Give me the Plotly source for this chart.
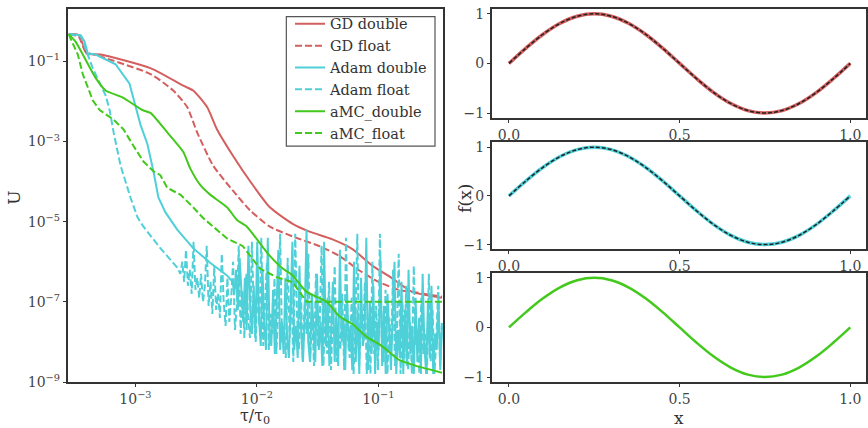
import numpy as np
import plotly.graph_objects as go

gd_double_logtau = [-3.549, -3.467, -3.426, -3.402, -3.287, -2.877, -2.607, -2.525, -2.410, -2.328,
                    -2.197, -2.057, -1.893, -1.705, -1.566, -1.377, -1.213, -1.049, -0.885, -0.721, -0.475]
gd_double_logU = [-0.320, -0.345, -0.636, -0.806, -0.830, -1.170, -1.607, -1.728, -2.141, -2.699,
                  -3.354, -3.985, -4.641, -5.053, -5.248, -5.442, -5.684, -6.097, -6.413, -6.752, -6.898]

gd_float_logtau = [-3.549, -3.467, -3.410, -3.287, -2.877, -2.689, -2.574, -2.492, -2.361, -2.197,
                   -2.057, -1.893, -1.705, -1.484, -1.320, -1.156, -0.992, -0.828, -0.664, -0.475]
gd_float_logU = [-0.320, -0.393, -0.757, -0.879, -1.316, -1.728, -2.141, -2.772, -3.597, -4.228,
                 -4.714, -5.126, -5.369, -5.612, -5.854, -6.218, -6.510, -6.704, -6.777, -6.874]

adam_double_logtau = [-3.549, -3.451, -3.418, -3.393, -3.328, -3.164, -3.049, -3.000, -2.959, -2.902,
                      -2.852, -2.811, -2.754, -2.656, -2.525, -2.385, -2.246]
adam_double_logU = [-0.320, -0.345, -0.515, -0.806, -0.830, -1.073, -1.558, -2.092, -2.578, -3.063,
                    -3.743, -4.398, -4.762, -5.199, -5.660, -6.024, -6.340]
adam_double_noise_start, adam_double_noise_end = -2.2, -0.475
adam_double_noise_logU = [
    -6.5, -6.8, -6.2, -7.2, -5.9, -6.9, -7.5, -6.4, -7.7, -5.6,
    -7.1, -7.8, -6.6, -7.9, -5.5, -7.4, -8.1, -6.2, -7.6, -8.2,
    -5.4, -7.8, -8.1, -6.7, -8.3, -7.1, -5.7, -8.2, -7.5, -8.3,
    -6.4, -7.9, -8.4, -7.0, -5.5, -8.2, -7.6, -8.4, -6.1, -7.8,
    -8.5, -7.3, -5.2, -8.0, -8.5, -6.8, -7.7, -8.5, -6.3, -8.2,
    -7.5, -8.6, -5.5, -8.1, -6.9, -8.6, -7.8, -6.5, -8.5, -7.3,
    -8.6, -5.7, -8.0, -7.4, -8.7, -6.7, -8.2, -7.6, -8.7, -6.0,
    -8.5, -7.2, -8.8, -6.4, -8.1, -7.8, -5.4, -8.7, -7.0, -8.3,
    -6.6, -8.8, -7.5, -8.2, -5.9, -8.6, -7.1, -8.8, -6.8, -8.0,
    -8.7, -7.3, -6.0, -8.8, -7.7, -8.4, -6.5, -8.8, -7.2, -8.6,
    -6.2, -8.3, -7.6, -8.8, -6.9, -8.5, -7.4, -8.8, -6.3, -8.1,
    -8.8, -7.0, -8.4, -6.6, -8.8, -7.8, -8.2, -6.9, -8.7, -7.6]

adam_float_logtau = [-3.549, -3.451, -3.402, -3.352, -3.246, -3.213, -3.180, -3.123, -3.041, -2.984,
                     -2.934, -2.795, -2.656]
adam_float_logU = [-0.320, -0.369, -0.757, -1.170, -1.850, -2.214, -2.772, -3.597, -4.398, -4.883,
                   -5.126, -5.660, -6.146]
adam_float_noise_start, adam_float_noise_end = -2.63, -0.475
adam_float_noise_logU = [
    -6.3, -6.0, -6.5, -5.7, -6.6, -6.2, -6.8, -5.5, -6.7, -6.4,
    -6.9, -6.3, -7.0, -6.6, -5.6, -7.1, -6.5, -7.3, -6.1, -7.2,
    -6.8, -7.4, -5.8, -7.0, -7.6, -6.4, -7.5, -6.9, -6.0, -7.7,
    -7.1, -5.6, -7.8, -6.7, -7.9, -6.3, -7.4, -7.9, -5.5, -7.2,
    -8.0, -6.6, -7.6, -5.4, -8.1, -7.0, -6.0, -8.2, -7.3, -7.8,
    -6.4, -8.3, -7.1, -5.3, -8.0, -7.6, -8.4, -5.9, -7.9, -6.8,
    -8.5, -5.3, -7.4, -8.2, -6.6, -8.5, -7.0, -7.8, -5.8, -8.4,
    -7.3, -8.6, -6.3, -8.1, -7.6, -5.6, -8.6, -7.0, -8.3, -6.5,
    -8.7, -7.4, -6.1, -8.5, -7.8, -8.2, -6.8, -8.7, -5.4, -7.9,
    -8.4, -6.9, -8.8, -7.5, -5.3, -8.6, -7.2, -8.1, -6.5, -8.8,
    -7.7, -8.8, -6.0, -8.3, -7.1, -8.7, -5.3, -7.9, -8.5, -6.7,
    -8.8, -7.4, -8.2, -6.2, -8.6, -7.8, -5.8, -8.8, -7.0, -8.4,
    -6.6, -8.7, -7.5, -8.8, -6.1, -8.1, -7.7, -8.8, -6.9, -8.3,
    -7.8, -8.8, -6.3, -8.5, -7.2, -8.8, -7.9, -6.6, -8.6, -7.5]

amc_double_logtau = [-3.549, -3.492, -3.434, -3.328, -3.246, -3.107, -2.943, -2.877, -2.738, -2.607,
                     -2.549, -2.467, -2.385, -2.246, -2.164, -2.082, -1.975, -1.893, -1.787, -1.705,
                     -1.590, -1.426, -1.320, -1.213, -1.098, -0.967, -0.828, -0.689, -0.475]
amc_double_logU = [-0.320, -0.515, -0.830, -1.413, -1.728, -1.898, -2.214, -2.286, -2.772, -3.257,
                   -3.670, -4.083, -4.325, -4.641, -4.956, -5.126, -5.539, -5.854, -6.170, -6.340,
                   -6.752, -6.995, -7.359, -7.553, -7.869, -8.112, -8.451, -8.597, -8.767]

amc_float_logtau = [-3.549, -3.533, -3.475, -3.434, -3.352, -3.295, -3.180, -3.098, -3.016, -2.934,
                    -2.852, -2.795, -2.738, -2.631, -2.525, -2.443, -2.246, -2.115, -1.975, -1.836,
                    -1.705, -1.590, -0.475]
amc_float_logU = [-0.320, -0.442, -0.830, -1.316, -1.971, -2.214, -2.456, -2.699, -3.112, -3.500,
                  -3.743, -3.840, -4.155, -4.325, -4.641, -4.908, -5.417, -5.612, -6.170, -6.388,
                  -6.510, -7.000, -7.000]

y_ticks = [1e-1, 1e-3, 1e-5, 1e-7, 1e-9]
y_ticktext = ["10<sup>−1</sup>", "10<sup>−3</sup>", "10<sup>−5</sup>", "10<sup>−7</sup>", "10<sup>−9</sup>"]
x_ticks = [1e-3, 1e-2, 1e-1]
x_ticktext = ["10<sup>−3</sup>", "10<sup>−2</sup>", "10<sup>−1</sup>"]

# ---------------- Right panels data ----------------
sine_x = [0.0, 0.05, 0.1, 0.15, 0.2, 0.25, 0.3, 0.35, 0.4, 0.45, 0.5,
          0.55, 0.6, 0.65, 0.7, 0.75, 0.8, 0.85, 0.9, 0.95, 1.0]
sine_y = [0.0, 0.309, 0.588, 0.809, 0.951, 1.0, 0.951, 0.809, 0.588, 0.309, 0.0,
          -0.309, -0.588, -0.809, -0.951, -1.0, -0.951, -0.809, -0.588, -0.309, 0.0]
right_xticks = [0.0, 0.5, 1.0]
right_xticktext = ["0.0", "0.5", "1.0"]
right_yticks = [-1, 0, 1]
right_yticktext = ["−1", "0", "1"]

RED = "#d35f5f"
CYAN = "#4fd0d8"
GREEN = "#42c91c"
FONT = "DejaVu Serif"
W, H = 868, 428


def full(logtau, logU, noise_logU=None, start=None, end=None):
    t = list(logtau)
    u = list(logU)
    if noise_logU is not None:
        t += list(np.linspace(start, end, len(noise_logU)))
        u += list(noise_logU)
    return 10 ** np.array(t), 10 ** np.array(u)


fig = go.Figure()

series = [
    ("GD double", RED, "solid", "spline", full(gd_double_logtau, gd_double_logU)),
    ("GD float", RED, "7px,3px", "spline", full(gd_float_logtau, gd_float_logU)),
    ("Adam double", CYAN, "solid", "linear", full(adam_double_logtau, adam_double_logU,
                                                   adam_double_noise_logU, adam_double_noise_start,
                                                   adam_double_noise_end)),
    ("Adam float", CYAN, "7px,3px", "linear", full(adam_float_logtau, adam_float_logU,
                                                    adam_float_noise_logU, adam_float_noise_start,
                                                    adam_float_noise_end)),
    ("aMC_double", GREEN, "solid", "spline", full(amc_double_logtau, amc_double_logU)),
    ("aMC_float", GREEN, "7px,3px", "linear", full(amc_float_logtau, amc_float_logU)),
]
for name, col, dash, shape, (tx, uy) in series:
    line = dict(color=col, width=2, dash=dash, shape=shape)
    if shape == "spline":
        line["smoothing"] = 0.6
    fig.add_trace(go.Scatter(x=tx, y=uy, mode="lines", name=name, line=line,
                             xaxis="x", yaxis="y"))

# right panels
fig.add_trace(go.Scatter(x=sine_x, y=sine_y, mode="lines", showlegend=False,
                         line=dict(color=RED, width=3.5, shape="spline"), xaxis="x2", yaxis="y2"))
fig.add_trace(go.Scatter(x=sine_x, y=sine_y, mode="lines", showlegend=False,
                         line=dict(color="#222", width=1.5, dash="4px,2px", shape="spline"), xaxis="x2", yaxis="y2"))
fig.add_trace(go.Scatter(x=sine_x, y=sine_y, mode="lines", showlegend=False,
                         line=dict(color=CYAN, width=3.5, shape="spline"), xaxis="x3", yaxis="y3"))
fig.add_trace(go.Scatter(x=sine_x, y=sine_y, mode="lines", showlegend=False,
                         line=dict(color="#222", width=1.5, dash="4px,2px", shape="spline"), xaxis="x3", yaxis="y3"))
fig.add_trace(go.Scatter(x=sine_x, y=sine_y, mode="lines", showlegend=False,
                         line=dict(color=GREEN, width=2.5, shape="spline"), xaxis="x4", yaxis="y4"))

common = dict(showline=True, linecolor="#333", linewidth=2, mirror=True, ticks="outside",
              ticklen=3, tickcolor="#333", showgrid=False, zeroline=False,
              tickfont=dict(family=FONT, size=14, color="#444"))


def ydom(top, bottom):
    return [1 - bottom / H, 1 - top / H]


left_xdom = [68 / W, 444 / W]
right_xdom = [493 / W, 1.0]


def ann(text, x, y, angle=0, yanchor="middle", size=17):
    return dict(text=text, x=x / W, y=1 - y / H, xref="paper", yref="paper", showarrow=False,
                xanchor="center", yanchor=yanchor, textangle=angle,
                font=dict(family=FONT, size=size, color="#333"))


fig.update_layout(
    width=W, height=H, margin=dict(l=0, r=0, t=0, b=0),
    paper_bgcolor="white", plot_bgcolor="white",
    font=dict(family=FONT, color="#333"),
    xaxis=dict(common, type="log", domain=left_xdom, range=[-3.557, -0.467],
               tickvals=x_ticks, ticktext=x_ticktext, anchor="y"),
    yaxis=dict(common, type="log", domain=ydom(6, 389), range=[-9, 0.31],
               tickvals=y_ticks, ticktext=y_ticktext, anchor="x"),
    xaxis2=dict(common, domain=right_xdom, range=[-0.05, 1.046], tickvals=right_xticks,
                ticktext=right_xticktext, anchor="y2"),
    yaxis2=dict(common, domain=ydom(6, 118), range=[-1.1, 1.1], tickvals=right_yticks,
                ticktext=right_yticktext, anchor="x2"),
    xaxis3=dict(common, domain=right_xdom, range=[-0.05, 1.046], tickvals=right_xticks,
                ticktext=right_xticktext, anchor="y3"),
    yaxis3=dict(common, domain=ydom(143, 253), range=[-1.1, 1.1], tickvals=right_yticks,
                ticktext=right_yticktext, anchor="x3"),
    xaxis4=dict(common, domain=right_xdom, range=[-0.05, 1.046], tickvals=right_xticks,
                ticktext=right_xticktext, anchor="y4"),
    yaxis4=dict(common, domain=ydom(277, 389), range=[-1.1, 1.1], tickvals=right_yticks,
                ticktext=right_yticktext, anchor="x4"),
    legend=dict(x=434 / W, xanchor="right", y=1 - 5 / H, yanchor="top",
                borderwidth=0, bgcolor="rgba(0,0,0,0)", itemwidth=30,
                font=dict(family=FONT, size=14.5, color="#333"), tracegroupgap=0),
    shapes=[dict(type="rect", xref="paper", yref="paper", x0=287 / W, x1=436 / W,
                 y0=1 - 147 / H, y1=1 - 14 / H, line=dict(color="#555", width=1.2),
                 fillcolor="white", layer="above")],
    annotations=[
        ann("U", 14, 200, -90),
        ann("τ/τ<sub>0</sub>", 256, 424, size=16),
        ann("f(x)", 466, 200, -90),
        ann("x", 681, 426, size=17),
    ],
)

fig.write_html("out.html")
